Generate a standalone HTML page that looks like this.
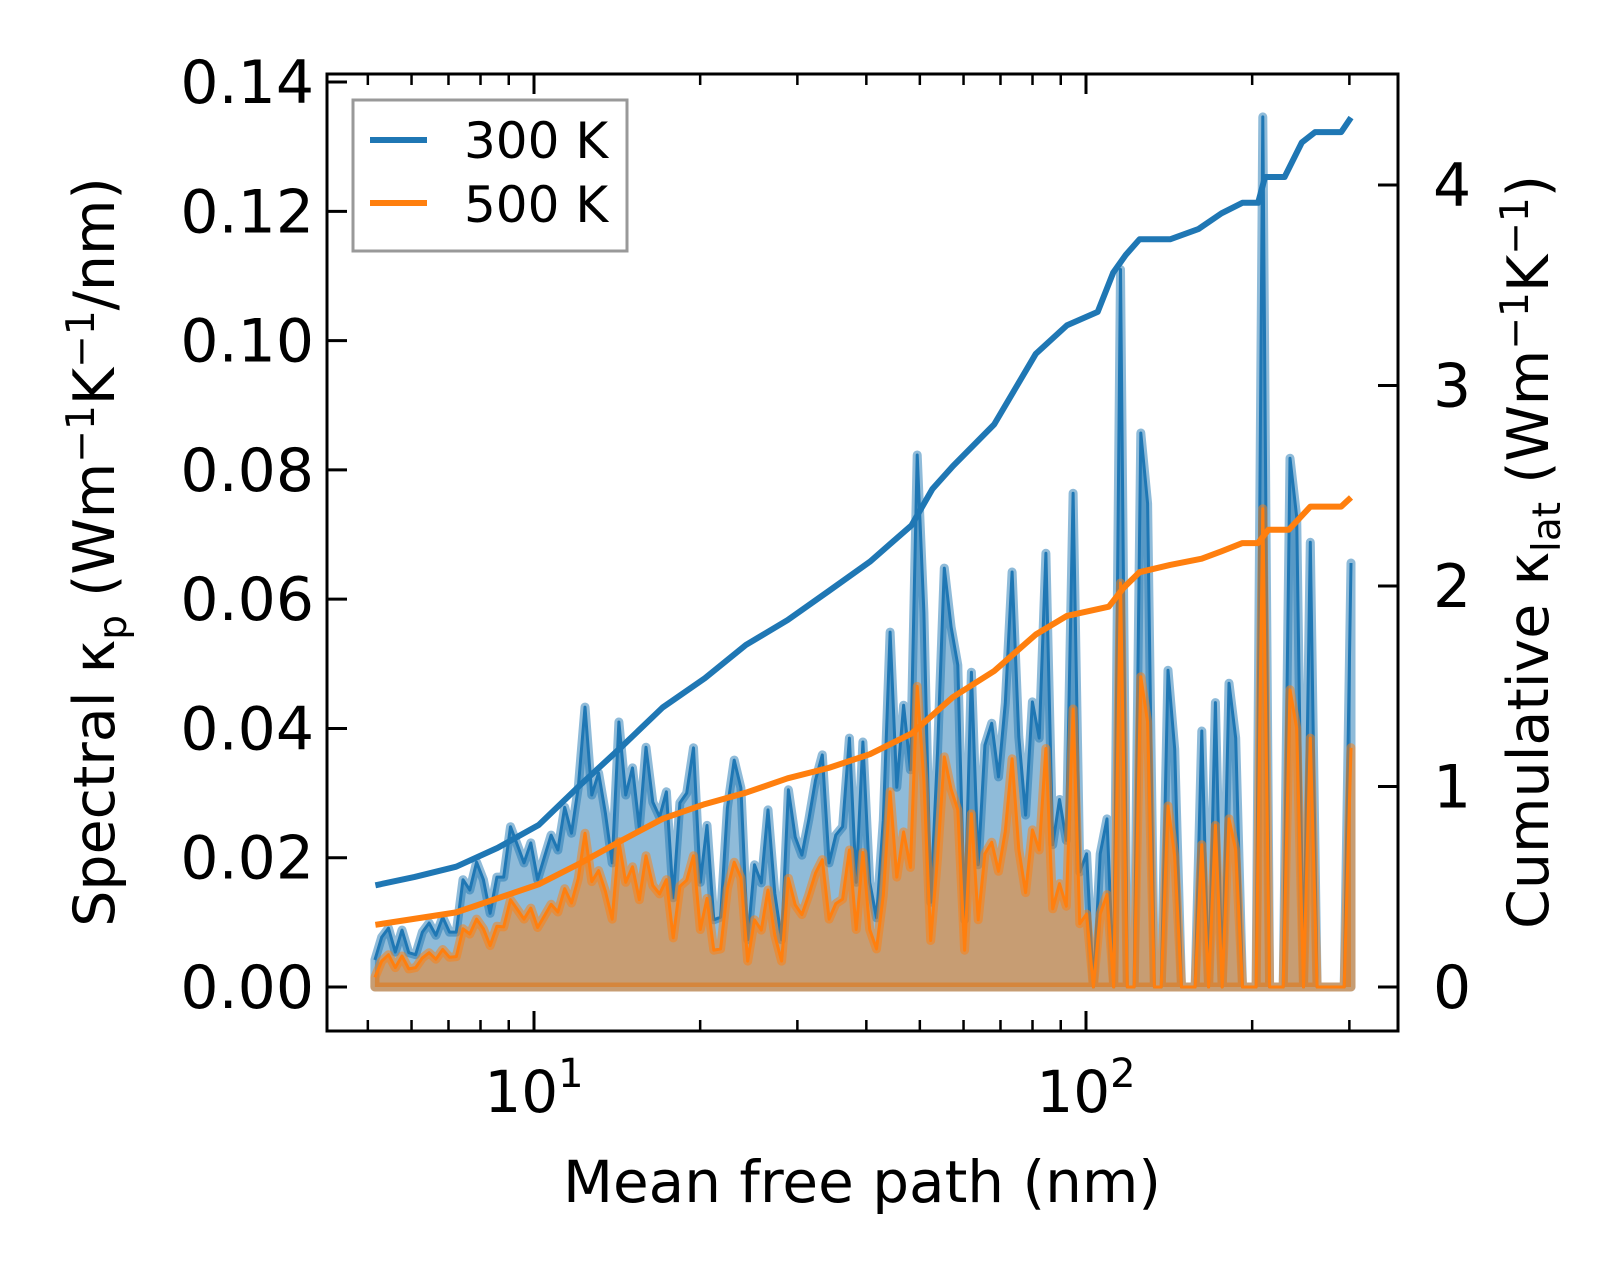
<!DOCTYPE html>
<html><head><meta charset="utf-8"><style>
html,body{margin:0;padding:0;background:#fff;}
svg{display:block;font-family:"DejaVu Sans","Liberation Sans",sans-serif;}
</style></head><body>
<svg id="chart" width="1623" height="1269" viewBox="0 0 1623 1269" xmlns="http://www.w3.org/2000/svg">
<rect width="1623" height="1269" fill="#fff"/>
<g id="plot"></g>
<g id="axes"></g>
<g>
<rect x="353" y="100" width="274" height="151" fill="#fff" fill-opacity="0.8" stroke="#999" stroke-width="3"/>
<line x1="370" y1="140" x2="427" y2="140" stroke="#1f77b4" stroke-width="6"/>
<text x="464" y="158" font-size="50" fill="#000">300 K</text>
<line x1="370" y1="203" x2="427" y2="203" stroke="#ff7f0e" stroke-width="6"/>
<text x="464" y="222" font-size="50" fill="#000">500 K</text>
</g>
<text x="862" y="1202" font-size="58" text-anchor="middle">Mean free path (nm)</text>
<text transform="translate(114,552) rotate(-90)" font-size="57" text-anchor="middle">Spectral κ<tspan font-size="39" dy="12">p</tspan><tspan dy="-12"> (Wm</tspan><tspan font-size="39" dy="-20">−1</tspan><tspan dy="20">K</tspan><tspan font-size="39" dy="-20">−1</tspan><tspan dy="20">/nm)</tspan></text>
<text transform="translate(1548,552) rotate(-90)" font-size="57" text-anchor="middle">Cumulative κ<tspan font-size="39" dy="12">lat</tspan><tspan dy="-12"> (Wm</tspan><tspan font-size="39" dy="-20">−1</tspan><tspan dy="20">K</tspan><tspan font-size="39" dy="-20">−1</tspan><tspan dy="20">)</tspan></text>
</svg>
<script>
// ---- data ----
const mfpMin = 5.15, mfpMax = 302; // spectral bins, uniform in log space
const spec300 = [.0042,.0077,.0091,.0054,.0088,.0053,.005,.0085,.0099,.008,.0108,.0085,.0085,.0166,.015,.0193,.0166,.0114,.017,.017,.0248,.022,.0192,.0223,.0166,.0201,.0235,.0212,.0278,.0238,.0309,.0433,.0297,.0331,.0269,.0192,.041,.0297,.0339,.0246,.0371,.0286,.0263,.0302,.0138,.0285,.03,.037,
.0162,.025,.0104,.0108,.0277,.0351,.0308,.0073,.0189,.0161,.0274,.0145,.0073,.0305,.0232,.0204,.0258,.032,.0359,.0192,.0235,.0248,.0385,.0162,.0379,.0162,.0107,.0258,.0549,.0309,.0436,.0336,.0823,.0579,.0131,.0362,.0648,.0557,.0498,.0104,.0487,.0189,.0374,.0408,.0325,.0439,.0642,
.0387,.0266,.0441,.0385,.0671,.022,.029,.0227,.0764,.0178,.0206,0,.0206,.026,0,.111,0,0,.0857,.0748,0,0,.049,.0368,0,0,0,.0396,0,.044,0,.047,.0385,0,0,0,.1346,0,0,0,.0818,.0727,0,.0688,0,0,0,0,0,.0656];
const spec500 = [.0015,.004,.005,.003,.0048,.0028,.003,.0045,.0053,.0043,.0058,.0046,.0047,.009,.0082,.0105,.009,.0064,.0094,.0093,.0135,.012,.0105,.0122,.0092,.011,.0128,.0116,.0152,.013,.0168,.0238,.0163,.018,.0148,.0105,.0225,.0162,.0186,.0135,.0203,.0157,.0144,.0166,.0076,.0156,.0165,.0203,
.0089,.0137,.0057,.0059,.0152,.0193,.0169,.004,.0104,.0088,.015,.008,.004,.0168,.0127,.0112,.0142,.0176,.0197,.0105,.0129,.0136,.0212,.0089,.0208,.0089,.0059,.0142,.0302,.017,.024,.0185,.0465,.0318,.0072,.0199,.0356,.0306,.0274,.0057,.0268,.0104,.0206,.0224,.0179,.0241,.0353,
.0213,.0146,.0243,.0212,.0369,.0121,.016,.0125,.043,.0098,.0113,0,.0113,.0143,0,.0625,0,0,.048,.041,0,0,.028,.0202,0,0,0,.022,0,.025,0,.026,.0212,0,0,0,.074,0,0,0,.046,.04,0,.0385,0,0,0,0,0,.037];
const cum300X = [5.16,6.08,7.23,8.59,10.2,12.1,14.4,17.1,20.4,24.2,28.8,34.2,40.6,48.3,52.7,57.4,68.2,81.1,92.3,105,112,118,125,142,160,176,192,205,211,229,246,260,290,302];
const cum300Y = [.507,.549,.600,.694,.808,1.005,1.197,1.394,1.540,1.706,1.830,1.975,2.121,2.302,2.484,2.598,2.806,3.158,3.300,3.367,3.563,3.651,3.729,3.729,3.781,3.859,3.911,3.911,4.040,4.040,4.212,4.264,4.264,4.336];
const cum500X = [5.16,7.23,10.2,12.1,14.4,17.1,20.4,24.2,28.8,34.2,40.6,48.3,57.4,68.2,81.1,92.3,110,117,125,142,162,176,192,205,214,233,255,290,302];
const cum500Y = [.310,.372,.512,.616,.730,.839,.912,.969,1.041,1.093,1.161,1.264,1.446,1.576,1.758,1.851,1.897,1.991,2.069,2.105,2.136,2.173,2.214,2.214,2.281,2.281,2.396,2.396,2.442];
const leftTicks = ["0.00","0.02","0.04","0.06","0.08","0.10","0.12","0.14"];
const leftTickVals = [0,0.02,0.04,0.06,0.08,0.10,0.12,0.14];
const rightTickVals = [0,1,2,3,4];
const xMajor = [10,100];
const xMinor = [5,6,7,8,9,20,30,40,50,60,70,80,90,200,300];

// ---- axes functions ----
const L=327,R=1398,T=74,B=1031;
const xs = v => 534 + (Math.log10(v)-1)*552;
const yl = v => 987 - v*6464;
const yr = v => 987 - v*200.5;
const NS="http://www.w3.org/2000/svg";
function mk(tag, attrs, parent){const e=document.createElementNS(NS,tag);for(const k in attrs)e.setAttribute(k,attrs[k]);parent.appendChild(e);return e;}
const plot=document.getElementById('plot'), axes=document.getElementById('axes');
const n=spec300.length;
const mfp = spec300.map((_,i)=>Math.pow(10, Math.log10(mfpMin)+(Math.log10(mfpMax)-Math.log10(mfpMin))*i/(n-1)));

function spectral(vals,color,dark,name){
  let pts=vals.map((v,i)=>xs(mfp[i]).toFixed(1)+','+yl(v).toFixed(1));
  const area='M'+xs(mfp[0]).toFixed(1)+','+yl(0)+' L'+pts.join(' L')+' L'+xs(mfp[n-1]).toFixed(1)+','+yl(0)+' Z';
  const f=mk('path',{d:area,fill:color,'fill-opacity':0.5,stroke:color,'stroke-opacity':0.5,'stroke-width':9,'stroke-linejoin':'round'},plot);
  
  
  const l=mk('polyline',{points:pts.join(' '),fill:'none',stroke:dark,'stroke-width':3,'stroke-linejoin':'round'},plot);
  
  
}
spectral(spec300,'#1f77b4','#1f77b4','spectral-300k');
spectral(spec500,'#ff7f0e','#ff7f0e','spectral-500k');

function cum(xv,yv,color,name){
  const p=mk('polyline',{points:xv.map((x,i)=>xs(x).toFixed(1)+','+yr(yv[i]).toFixed(1)).join(' '),fill:'none',stroke:color,'stroke-width':6,'stroke-linejoin':'round'},plot);
  
  
}
cum(cum300X,cum300Y,'#1f77b4','cumulative-300k-line');
cum(cum500X,cum500Y,'#ff7f0e','cumulative-500k-line');

// frame
const fr=mk('rect',{x:L,y:T,width:R-L,height:B-T,fill:'none',stroke:'#000','stroke-width':3},axes);


leftTickVals.forEach((v,i)=>{
  const y=yl(v);
  const t=mk('line',{x1:L,y1:y,x2:L+20,y2:y,stroke:'#000','stroke-width':3},axes);
  
  
  const tx=mk('text',{x:314,y:y+21,'font-size':60,'text-anchor':'end'},axes);
  tx.textContent=leftTicks[i];
  
  
});
rightTickVals.forEach(v=>{
  const y=yr(v);
  const t=mk('line',{x1:R-20,y1:y,x2:R,y2:y,stroke:'#000','stroke-width':3},axes);
  
  
  const tx=mk('text',{x:1433,y:y+21,'font-size':60},axes);
  tx.textContent=String(v);
  
  
});
xMajor.forEach((v,i)=>{
  const x=xs(v);
  [[B,B-20],[T,T+20]].forEach(([a,b])=>{
    const t=mk('line',{x1:x,y1:a,x2:x,y2:b,stroke:'#000','stroke-width':3},axes);
    
    
  });
  const tx=mk('text',{x:x,y:1112,'font-size':58,'text-anchor':'middle'},axes);
  
  
  tx.innerHTML='10<tspan font-size="40" dy="-25">'+(i+1)+'</tspan>';
});
xMinor.forEach(v=>{
  const x=xs(v);
  [[B,B-11],[T,T+11]].forEach(([a,b])=>{
    const t=mk('line',{x1:x,y1:a,x2:x,y2:b,stroke:'#000','stroke-width':2.5},axes);
    
    
  });
});
</script>
</body></html>
